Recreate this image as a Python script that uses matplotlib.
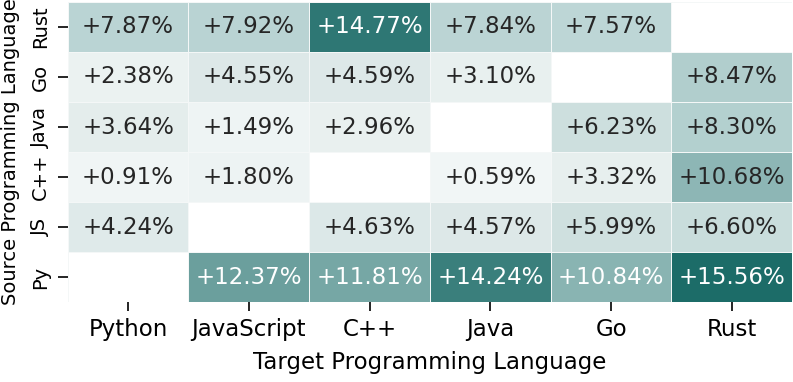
import numpy as np
import matplotlib
matplotlib.use("Agg")
import matplotlib.pyplot as plt
import seaborn as sns
from matplotlib.colors import LinearSegmentedColormap

# Data
target_langs = ["Python", "JavaScript", "C++", "Java", "Go", "Rust"]
source_langs = ["Rust", "Go", "Java", "C++", "JS", "Py"]  # top to bottom
row_rust = [7.87, 7.92, 14.77, 7.84, 7.57, np.nan]
row_go = [2.38, 4.55, 4.59, 3.10, np.nan, 8.47]
row_java = [3.64, 1.49, 2.96, np.nan, 6.23, 8.30]
row_cpp = [0.91, 1.80, np.nan, 0.59, 3.32, 10.68]
row_js = [4.24, np.nan, 4.63, 4.57, 5.99, 6.60]
row_py = [np.nan, 12.37, 11.81, 14.24, 10.84, 15.56]

values = np.array([row_rust, row_go, row_java, row_cpp, row_js, row_py])
labels = np.array([["" if np.isnan(v) else f"+{v:.2f}%" for v in row] for row in values])

cmap = LinearSegmentedColormap.from_list(
    "teal",
    [(0.0, "#f1f6f6"), (0.168, "#e8f0ef"), (0.265, "#dde8e8"), (0.377, "#cddfde"),
     (0.486, "#bad4d4"), (0.674, "#8db6b5"), (0.787, "#6b9f9d"), (0.912, "#3b7f7c"),
     (1.0, "#1c6c68")])

FS = 16.5
FS_Y = 14
fig = plt.figure(figsize=(7.93, 3.82), dpi=100)
ax = fig.add_axes([0.0854, 0.209, 0.9136, 0.786])
sns.heatmap(values, ax=ax, cmap=cmap, annot=labels, fmt="", cbar=False,
            vmin=np.nanmin(values), vmax=np.nanmax(values),
            linewidths=0.4, linecolor="#f4f7f7",
            annot_kws={"fontsize": FS},
            xticklabels=target_langs, yticklabels=source_langs)

# white text on dark cells
for t in ax.texts:
    s = t.get_text()
    if s:
        v = float(s.strip("+%"))
        t.set_color("white" if v > 10.75 else "#262626")

ax.tick_params(axis="x", labelsize=FS, length=6.6, width=1.2, pad=5)
ax.tick_params(axis="y", labelsize=FS_Y, length=7, width=1.2, pad=6)
plt.setp(ax.get_yticklabels(), rotation=90, va="center")
plt.setp(ax.get_xticklabels(), rotation=0)

ax.set_xlabel("Target Programming Language", fontsize=FS, labelpad=7)
ax.set_ylabel("Source Programming Language", fontsize=FS_Y)
ax.yaxis.set_label_coords(20 / 793, 1 - 152 / 382, transform=fig.transFigure)

fig.savefig("out.png", dpi=100)
